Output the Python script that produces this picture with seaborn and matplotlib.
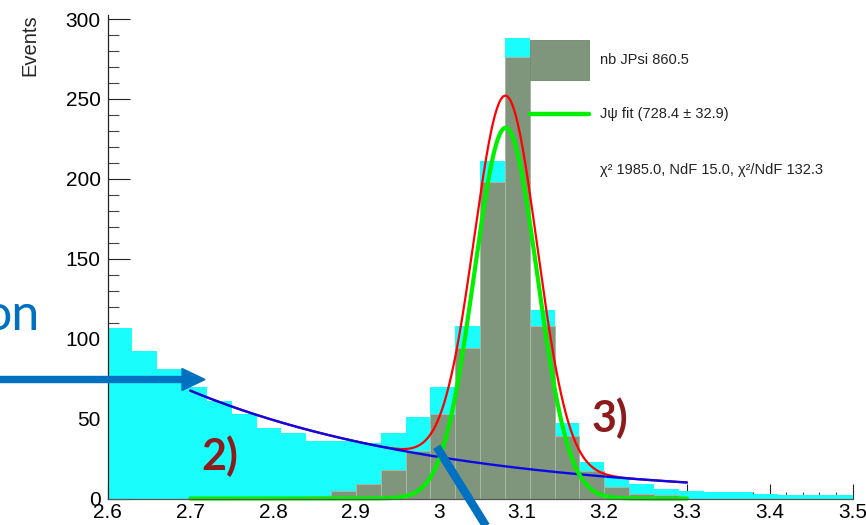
import numpy as np
import pandas as pd
import matplotlib
matplotlib.use("Agg")
import matplotlib.pyplot as plt
import seaborn as sns
from matplotlib.patches import FancyArrow, Rectangle
from matplotlib.lines import Line2D
from matplotlib.ticker import MultipleLocator, FuncFormatter

# ---- histogram contents (bins of 0.03 GeV from 2.6 to 3.5) ----
bin_edges = [round(v, 2) for v in np.linspace(2.6, 3.5, 31)]
total_counts = [107, 92, 81, 70, 61, 53, 44, 41, 36, 36,
                35, 41, 51, 70, 108, 211, 288, 118, 47, 23,
                13, 9, 6, 5, 4, 4, 3, 2, 2, 2]
jpsi_counts = [0, 0, 0, 0, 0, 0, 0, 0, 1.5, 5,
               9, 18, 30, 53, 94, 198, 276, 108, 39, 17,
               7, 3, 2, 0, 0, 0, 0, 0, 0, 0]

# ---- fit model: exponential background + gaussian J/psi peak ----
fit_lo, fit_hi = 2.7, 3.3
bkg_at_lo = 67.5
bkg_slope = -3.18
sig_amp = 232.0
sig_mean = 3.081
sig_sigma = 0.038

x_ticks_major = 0.1
y_ticks_major = 50

legend_entries = ["nb JPsi 860.5",
                  "Jψ fit (728.4 ± 32.9)",
                  "χ² 1985.0, NdF 15.0, χ²/NdF 132.3"]

CYAN = "#1afdfd"
GRAY = "#7f967c"
GREEN = "#00f000"
ANNOT_BLUE = "#0070c0"
ANNOT_RED = "#8c1c1c"

sns.set_theme(style="white")
plt.rcParams["font.family"] = ["Liberation Sans", "DejaVu Sans"]

W, H = 866, 525


def fx(px):
    return px / W


def fy(py):
    return 1 - py / H


fig = plt.figure(figsize=(W / 100, H / 100), dpi=100)
ax = fig.add_axes([fx(107.5), fy(498.5), (852.5 - 107.5) / W, (498.5 - 15.1) / H])

edges = np.array(bin_edges)
centers = 0.5 * (edges[:-1] + edges[1:])
df = pd.DataFrame({"mass": centers, "total": total_counts, "jpsi": jpsi_counts})

# all candidates, drawn as one filled outline
sns.histplot(data=df, x="mass", weights="total", bins=bin_edges, element="step",
             color=CYAN, alpha=1, linewidth=0, ax=ax)
# J/psi component on top, bins outlined
sig_df = df[df["jpsi"] > 0]
sns.histplot(data=sig_df, x="mass", weights="jpsi", bins=bin_edges,
             color=GRAY, alpha=1, edgecolor="#a7b8a4", linewidth=0.7, ax=ax)

xf = np.linspace(fit_lo, fit_hi, 600)
bkg = bkg_at_lo * np.exp(bkg_slope * (xf - fit_lo))
sig = sig_amp * np.exp(-0.5 * ((xf - sig_mean) / sig_sigma) ** 2)
sns.lineplot(x=xf, y=sig + bkg, color="#ff0000", lw=1.6, ax=ax)
sns.lineplot(x=xf, y=bkg, color="#0a0ae6", lw=1.7, ax=ax)
sns.lineplot(x=xf, y=sig, color=GREEN, lw=3.0, ax=ax)
for ln in ax.lines:
    ln.set_clip_on(False)

ax.set_xlim(2.6, 3.5)
ax.set_ylim(0, 302.5)
ax.set_xlabel("")
ax.set_ylabel("")

for s in ("top", "right"):
    ax.spines[s].set_visible(False)
ax.spines["left"].set_color("#222222")
ax.spines["bottom"].set_color("#555555")
ax.spines["left"].set_linewidth(0.9)
ax.spines["bottom"].set_linewidth(0.9)

ax.xaxis.set_major_locator(MultipleLocator(x_ticks_major))
ax.xaxis.set_minor_locator(MultipleLocator(0.02))
ax.yaxis.set_major_locator(MultipleLocator(y_ticks_major))
ax.yaxis.set_minor_locator(MultipleLocator(10))
ax.xaxis.set_major_formatter(FuncFormatter(lambda v, p: f"{round(v, 2):g}"))
ax.yaxis.set_major_formatter(FuncFormatter(lambda v, p: f"{v:g}"))

ax.tick_params(axis="x", which="major", direction="in", length=11, width=0.8,
               labelsize=15, pad=3, bottom=True, colors="#222222", labelcolor="black")
ax.tick_params(axis="x", which="minor", direction="in", length=5, width=0.8,
               bottom=True, colors="#444444")
ax.tick_params(axis="y", which="major", direction="in", length=16, width=0.8,
               labelsize=15, pad=5, left=True, colors="#222222", labelcolor="black")
ax.tick_params(axis="y", which="minor", direction="in", length=8, width=0.8,
               left=True, colors="#444444")

fig.text(fx(30), fy(14), "Events", rotation=90, ha="center", va="top", fontsize=14.5)

# legend block
fig.add_artist(Rectangle((fx(529.5), fy(80)), 59 / W, 40 / H, transform=fig.transFigure,
                         facecolor=GRAY, edgecolor="#6e856b", lw=0.6))
fig.add_artist(Line2D([fx(529.5), fx(588.5)], [fy(114.3)] * 2, color=GREEN, lw=3.2))
for ypx, txt in zip((60, 114, 170), legend_entries):
    fig.text(fx(600), fy(ypx), txt, ha="left", va="center", fontsize=10.5, color="#222222")

# slide annotations
fig.text(fx(40), fy(330), "on", ha="right", va="baseline", fontsize=36,
         color=ANNOT_BLUE, family="Lato")
fig.text(fx(201), fy(470), "2)", ha="left", va="baseline", fontsize=31,
         color=ANNOT_RED, family="Lato", fontweight="bold")
fig.text(fx(592), fy(432), "3)", ha="left", va="baseline", fontsize=31,
         color=ANNOT_RED, family="Lato", fontweight="bold")

fig.add_artist(FancyArrow(-0.05, (H - 379.5) / 100, 2.10, 0, width=0.06,
                          head_width=0.22, head_length=0.23, length_includes_head=True,
                          color=ANNOT_BLUE, transform=fig.dpi_scale_trans))
fig.add_artist(Line2D([436.7 / 100, 488.5 / 100], [(H - 446.7) / 100, (H - 530) / 100],
                      color=ANNOT_BLUE, lw=6.0, solid_capstyle="butt",
                      transform=fig.dpi_scale_trans))

fig.savefig("out.png", dpi=100)
